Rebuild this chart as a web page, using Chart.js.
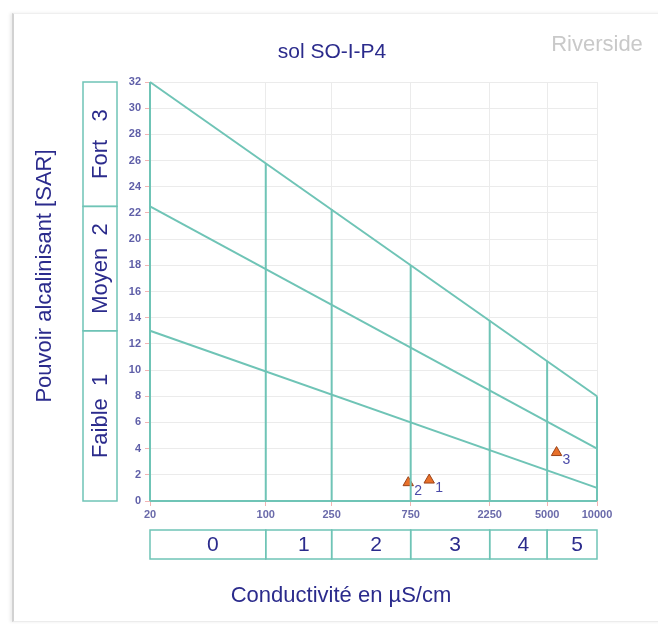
<!DOCTYPE html>
<html>
<head>
<meta charset="utf-8">
<script src="https://cdn.jsdelivr.net/npm/chart.js@4/dist/chart.umd.min.js"></script>
<style>
  body { margin: 0; background: #fff; }
  #wrap { position: relative; width: 658px; height: 624px; overflow: hidden; }
  #card {
    position: absolute; left: 12px; top: 13px; width: 700px; height: 607px;
    border-left: 2px solid #d2d2d2; border-top: 1px solid #efefef; border-bottom: 1px solid #ececec;
    box-shadow: -2px 0 3px rgba(0, 0, 0, 0.08);
  }
  #myChart { position: absolute; left: 0; top: 0; }
</style>
</head>
<body>
<div id="wrap">
  <div id="card"></div>
  <canvas id="myChart" width="658" height="624"></canvas>
</div>
<script>
// salinity classes (conductivity, µS/cm)
const ecBounds = [20, 100, 250, 750, 2250, 5000, 10000];
const ecClasses = ["0", "1", "2", "3", "4", "5"];
// top of each vertical class divider (SAR)
const dividerTops = [32, 25.8, 22.3, 18, 13.8, 10.7, 8];

// alkalinity classes (SAR)
const sarBounds = [0, 13, 22.5, 32];
const sarClasses = ["Faible  1", "Moyen  2", "Fort   3"];
// class limit lines, SAR at 20 and 10000 µS/cm
const lineEnds = [20, 10000];
const limitFaible = [13, 1];
const limitMoyen = [22.5, 4];
const limitFort = [32, 8];

// samples
const sampleIds = ["1", "2", "3"];
const sampleEC = [970, 725, 5700];
const sampleSAR = [1.6, 1.4, 3.7];

const TEAL = "#6fc4b6";
const NAVY = "#2b2b8c";
const FONT = "'Liberation Sans', Arial, sans-serif";

function seg(xs, ys) {
  return {
    data: xs.map((x, i) => ({ x: x, y: ys[i] })),
    showLine: true,
    borderColor: TEAL,
    borderWidth: 2,
    pointRadius: 0,
    clip: 4,
  };
}

const datasets = [
  seg(lineEnds, limitFort),
  seg(lineEnds, limitMoyen),
  seg(lineEnds, limitFaible),
  seg([ecBounds[0], ecBounds[ecBounds.length - 1]], [0, 0]),
];
ecBounds.forEach((b, i) => datasets.push(seg([b, b], [0, dividerTops[i]])));
datasets.push({
  data: sampleEC.map((x, i) => ({ x: x, y: sampleSAR[i] })),
  pointStyle: "triangle",
  pointRadius: 6,
  backgroundColor: "#e8702a",
  borderColor: "#9c4318",
  borderWidth: 1,
  showLine: false,
  clip: false,
});

// boxes, numbering and titles around the plot
const decor = {
  id: "decor",
  afterDraw(chart) {
    const ctx = chart.ctx;
    const xs = chart.scales.x;
    const ys = chart.scales.y;
    ctx.save();
    ctx.strokeStyle = TEAL;
    ctx.lineWidth = 1.5;

    // salinity class boxes
    const top = 530, bot = 559;
    ctx.fillStyle = NAVY;
    ctx.font = "21px " + FONT;
    ctx.textAlign = "center";
    ctx.textBaseline = "middle";
    for (let i = 0; i < ecClasses.length; i++) {
      const x0 = xs.getPixelForValue(ecBounds[i]);
      const x1 = xs.getPixelForValue(ecBounds[i + 1]);
      ctx.strokeRect(x0, top, x1 - x0, bot - top);
      ctx.fillText(ecClasses[i], (x0 + x1) / 2 + 5, (top + bot) / 2 + 1);
    }

    // alkalinity class boxes
    const left = 83, right = 117;
    ctx.font = "22px " + FONT;
    for (let i = 0; i < sarClasses.length; i++) {
      const y0 = ys.getPixelForValue(sarBounds[i]);
      const y1 = ys.getPixelForValue(sarBounds[i + 1]);
      ctx.strokeRect(left, y1, right - left, y0 - y1);
      ctx.save();
      ctx.translate((left + right) / 2 + 1, (y0 + y1) / 2);
      ctx.rotate(-Math.PI / 2);
      ctx.fillText(sarClasses[i], 0, 0);
      ctx.restore();
    }

    // sample numbers
    const meta = chart.getDatasetMeta(chart.data.datasets.length - 1);
    ctx.font = "14px " + FONT;
    ctx.fillStyle = "#4a4aa8";
    ctx.textAlign = "left";
    meta.data.forEach((pt, i) => {
      ctx.fillText(sampleIds[i], pt.x + 6, pt.y + 8);
    });

    // titles
    ctx.fillStyle = NAVY;
    ctx.textAlign = "center";
    ctx.font = "21px " + FONT;
    ctx.fillText("sol SO-I-P4", 332, 52);
    ctx.fillStyle = "#c9c9c9";
    ctx.font = "22px " + FONT;
    ctx.fillText("Riverside", 597, 45);
    ctx.fillStyle = NAVY;
    ctx.font = "22px " + FONT;
    ctx.fillText("Conductivité en µS/cm", 341, 596);
    ctx.save();
    ctx.translate(45, 276);
    ctx.rotate(-Math.PI / 2);
    ctx.fillText("Pouvoir alcalinisant [SAR]", 0, 0);
    ctx.restore();
    ctx.restore();
  },
};

const ctx = document.getElementById("myChart").getContext("2d");
new Chart(ctx, {
  type: "scatter",
  data: { datasets: datasets },
  plugins: [decor],
  options: {
    responsive: false,
    animation: false,
    layout: { padding: { left: 0, right: 61, top: 82, bottom: 0 } },
    plugins: { legend: { display: false }, tooltip: { enabled: false } },
    scales: {
      x: {
        type: "logarithmic",
        min: 20,
        max: 10000,
        afterBuildTicks: (scale) => {
          scale.ticks = ecBounds.map((v) => ({ value: v }));
        },
        afterFit: (scale) => {
          scale.height = 123;
        },
        border: { display: false },
        grid: { color: "#ebebeb", tickColor: "#f2b4b4", tickLength: 5 },
        ticks: {
          autoSkip: false,
          maxRotation: 0,
          padding: 2,
          color: "#6a6aaa",
          font: { family: FONT, size: 11, weight: "bold" },
          callback: (v) => String(v),
        },
      },
      y: {
        min: 0,
        max: 32,
        afterFit: (scale) => {
          scale.width = 150;
        },
        border: { display: false },
        grid: { color: "#ebebeb", tickColor: "#f2b4b4", tickLength: 5 },
        ticks: {
          stepSize: 2,
          padding: 4,
          color: "#5f5fa8",
          font: { family: FONT, size: 11, weight: "bold" },
        },
      },
    },
  },
});
</script>
</body>
</html>
